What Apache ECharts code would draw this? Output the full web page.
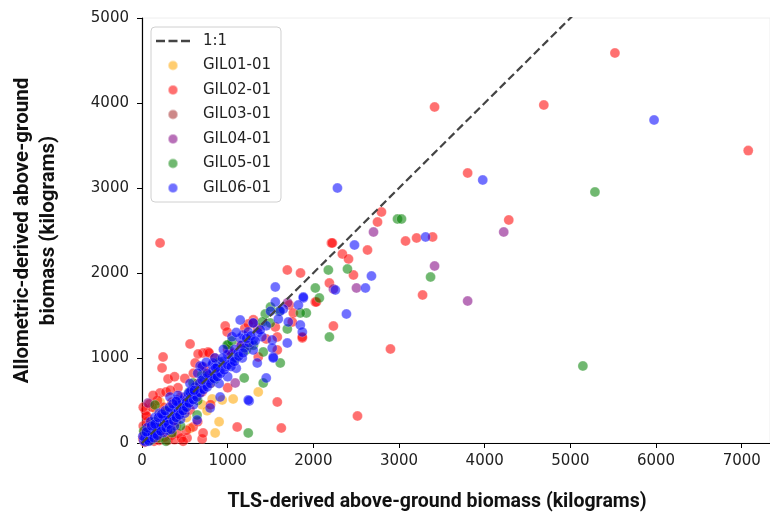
<!DOCTYPE html>
<html>
<head>
<meta charset="utf-8">
<script src="https://cdn.jsdelivr.net/npm/echarts@6/dist/echarts.min.js"></script>
<style>html,body{margin:0;padding:0;background:#fff}#c{width:770px;height:514px}</style>
</head>
<body>
<div id="c"></div>
<script>
const seriesNames = ['GIL01-01','GIL02-01','GIL03-01','GIL04-01','GIL05-01','GIL06-01'];
const xTicks = [0,1000,2000,3000,4000,5000,6000,7000];
const yTicks = [0,1000,2000,3000,4000,5000];
const oneToOne = [0, 7400];

const gil01 = [[854,118],[1064,518],[1357,600],[936,506],[819,518],[211,482],[300,250],[450,380],[600,620],[520,300],[700,450],[180,120],[350,150],[800,700],[650,560],[400,200],[250,350],[120,60],[900,250],[160,402],[560,170],[760,380]];

const gil02 = [[211,2353],[5520,4588],[4690,3976],[3415,3953],[7076,3440],[3801,3176],[4281,2624],[2900,1106],[2515,318],[3275,1741],[3076,2376],[3205,2412],[3392,2424],[2795,2718],[2749,2600],[2211,2353],[2222,2353],[2632,2270],[2339,2223],[2410,2165],[2468,1976],[2187,1882],[2023,1659],[2234,1376],[1579,482],[1626,176],[1111,188],[1871,1235],[1696,2035],[2035,1659],[1719,1624],[1766,1529],[1754,1424],[1556,1365],[1871,1247],[1450,1224],[1579,1247],[1579,1094],[1357,1012],[772,1071],[713,1059],[561,1165],[246,1012],[234,882],[304,753],[971,1376],[994,1306],[655,1047],[784,1059],[620,941],[713,894],[211,588],[58,306],[94,212],[561,388],[596,188],[702,47],[713,118],[526,59],[10,50],[25,120],[15,200],[40,380],[60,250],[80,150],[110,40],[140,20],[170,60],[200,30],[220,110],[260,70],[300,30],[340,90],[380,40],[420,110],[460,60],[480,20],[520,150],[400,250],[350,480],[250,420],[180,500],[120,420],[280,600],[420,650],[500,760],[380,780],[600,820],[650,700],[750,850],[850,1000],[1000,1100],[1150,1150],[1300,1450],[1350,1350],[1200,1350],[700,600],[650,250],[800,450],[1000,650],[1240,1400],[1850,2000],[30,10],[50,320],[90,460],[15,420],[130,560],[330,620],[450,540]];

const gil03 = [[180,220],[420,380],[650,600]];

const gil04 = [[2702,2482],[2503,1824],[2234,1812],[3415,2082],[3801,1670],[4222,2482],[1298,1412],[1018,1071],[1029,1082],[1088,706],[480,388],[70,470],[300,280],[150,200],[600,550],[800,760],[1700,1650],[1250,1150]];

const gil05 = [[2982,2635],[3029,2635],[5287,2953],[5146,906],[3368,1953],[2175,2035],[2398,2047],[2023,1824],[2070,1706],[1918,1529],[2187,1247],[1240,118],[1415,706],[1193,765],[1614,941],[1439,1518],[1848,1529],[1404,1424],[1497,1412],[1696,1341],[1006,1153],[994,1153],[1216,1094],[596,706],[643,329],[152,447],[1415,1071],[50,80],[100,30],[150,250],[250,180],[300,380],[400,300],[500,420],[550,600],[650,500],[700,800],[850,750],[900,950],[1050,1200],[1100,1000],[1300,1150],[1500,1600],[1600,1550],[200,60],[350,120],[450,200],[20,140],[280,20]];

const gil06 = [[5977,3800],[3977,3094],[2281,3000],[3310,2424],[2480,2329],[2678,1965],[2608,1824],[2257,1800],[1883,1706],[2386,1518],[1556,1835],[1556,1659],[1251,494],[1450,765],[1532,1012],[1825,1624],[1883,1718],[1649,1576],[1614,1553],[1146,1447],[1298,1412],[1591,1459],[1708,1424],[1848,1388],[1871,1306],[1181,1271],[1240,1306],[1298,1212],[1146,1235],[1520,1212],[1696,1176],[1520,1118],[1298,1094],[830,941],[1053,953],[1170,1000],[1345,941],[1532,1000],[678,906],[819,918],[1240,506],[327,541],[409,506],[643,270],[795,412],[912,541],[20,30],[40,15],[35,60],[60,45],[70,90],[90,60],[100,120],[120,95],[130,150],[150,110],[160,180],[175,140],[190,210],[200,170],[210,240],[230,200],[240,260],[260,230],[270,300],[290,250],[300,330],[320,280],[330,360],[350,310],[360,390],[380,340],[400,420],[420,370],[430,460],[450,400],[470,500],[490,440],[500,540],[520,480],[540,580],[560,520],[580,620],[600,560],[620,660],[650,600],[670,700],[700,640],[720,760],[750,690],[780,800],[800,740],[830,850],[860,790],[880,900],[900,840],[940,960],[980,900],[1000,1040],[1050,980],[1080,1100],[1120,1060],[1160,1150],[1200,1120],[1250,1180],[1350,1300],[1400,1250],[1450,1380],[100,250],[60,180],[250,120],[380,200],[150,300],[450,280],[500,350],[300,150],[200,350],[600,450],[560,700],[420,560],[700,900],[650,820],[900,700],[1000,780],[850,1000],[1100,880],[1050,1250],[950,1100],[750,950],[1500,1550],[1100,1300],[10,80],[50,130],[80,20],[110,200],[140,60],[180,90],[220,140],[250,310],[280,180],[310,220],[340,160],[370,260],[400,300],[150,220],[190,300],[230,340],[270,380],[320,420],[360,460],[400,490],[440,330],[480,380],[520,420],[550,470],[600,510],[640,540],[680,590],[720,630],[760,660],[800,700],[840,760],[880,780],[920,820],[960,860],[1000,920],[1040,900],[1080,960],[1130,1020],[1180,1060],[1220,1230],[1270,1260],[1320,1200],[1380,1330],[560,600],[610,620],[700,740],[760,820],[860,880],[940,1000]];

const colors = ['rgba(255,165,0,0.7)','rgba(255,0,0,0.7)','rgba(165,42,42,0.7)','rgba(128,0,128,0.7)','rgba(0,128,0,0.7)','rgba(0,0,255,0.7)'];
const allData = [gil01,gil02,gil03,gil04,gil05,gil06];

const chart = echarts.init(document.getElementById('c'));
const scatterSeries = seriesNames.map((n,i)=>({
  name:n, type:'scatter', data: allData[i], symbolSize:10,
  itemStyle:{color:colors[i], borderColor:'rgba(255,255,255,0.6)', borderWidth:0.5},
  emphasis:{disabled:true}, z:2
}));
const lineSeries = {
  name:'1:1', type:'line', data: oneToOne.map(v=>[v,v]), symbol:'none',
  lineStyle:{color:'#444', width:2.2, type:[8,4]}, itemStyle:{color:'#444'}, z:5, clip:true
};
const dashIcon = 'path://M0,0h9v2.4h-9z M12.5,0h9v2.4h-9z M25,0h9v2.4h-9z';
const legendTextStyle = {fontFamily:'DejaVu Sans', fontSize:15, color:'#222', padding:[0,0,0,8], lineHeight:16};
const fmt = v => String(v);
chart.setOption({
  animation:false,
  grid:{left:142, right:0, top:18, bottom:71, show:true, borderColor:'#eeeeee', borderWidth:1, outerBoundsMode:'none', containLabel:false},
  legend:{
    left:151, top:27, orient:'vertical', itemWidth:34, itemHeight:10, itemGap:8.5,
    padding:[6,10,6,5], borderColor:'#d0d0d0', borderWidth:1, borderRadius:4,
    backgroundColor:'rgba(255,255,255,0.8)',
    textStyle:legendTextStyle,
    data:[{name:'1:1', icon:dashIcon, itemStyle:{color:'#444', borderWidth:0}}].concat(seriesNames.map(n=>({name:n, icon:'circle'})))
  },
  xAxis:{
    type:'value', min:0, max:7330, interval:1000,
    name:'TLS-derived above-ground biomass (kilograms)', nameLocation:'middle', nameGap:49,
    nameTextStyle:{fontFamily:'Roboto', fontWeight:'bold', fontSize:19.5, color:'#111', padding:[0,38,0,0]},
    axisLine:{lineStyle:{color:'#000', width:1.2}},
    axisTick:{show:true, length:5, lineStyle:{color:'#000'}, customValues:xTicks},
    axisLabel:{fontFamily:'DejaVu Sans', fontSize:15, color:'#222', margin:11, customValues:xTicks, formatter:fmt},
    splitLine:{show:false}
  },
  yAxis:{
    type:'value', min:0, max:5000, interval:1000,
    name:'Allometric-derived above-ground\nbiomass (kilograms)', nameLocation:'middle', nameGap:80,
    nameTextStyle:{fontFamily:'Roboto', fontWeight:'bold', fontSize:20.5, color:'#111', lineHeight:26},
    axisLine:{show:true, lineStyle:{color:'#000', width:1.2}},
    axisTick:{show:true, length:5, lineStyle:{color:'#000'}, customValues:yTicks},
    axisLabel:{fontFamily:'DejaVu Sans', fontSize:15, color:'#222', margin:13, customValues:yTicks, formatter:fmt},
    splitLine:{show:false}
  },
  series: scatterSeries.concat([lineSeries])
});
</script>
</body>
</html>
